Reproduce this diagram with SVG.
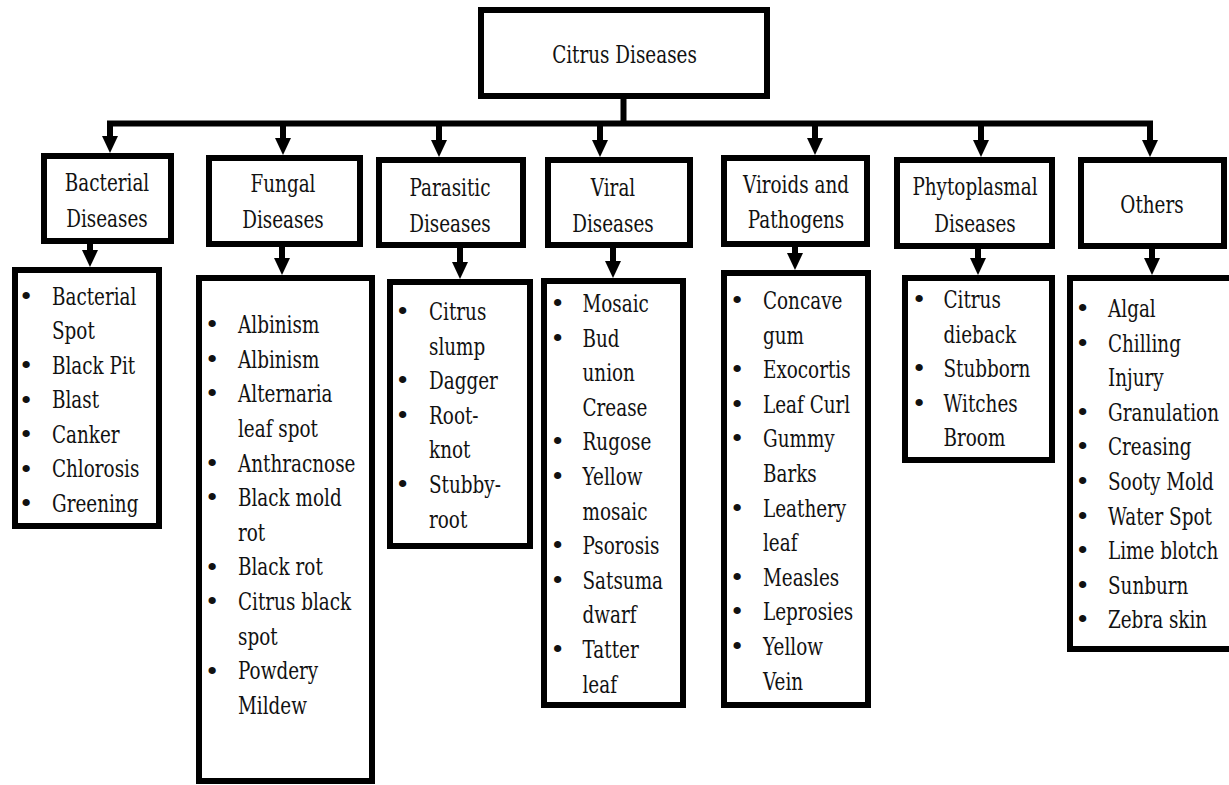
<svg xmlns="http://www.w3.org/2000/svg" width="1229" height="785" viewBox="0 0 1229 785">
<style>
  .box { fill: #ffffff; stroke: #000000; stroke-width: 6; }
  .wire { fill: none; stroke: #000000; stroke-width: 6; }
  text { font-family: 'DejaVu Serif', 'Liberation Serif', serif; font-size: 25px; fill: #111111; }
  .c { text-anchor: middle; }
  .b { text-anchor: middle; }
</style>
<defs>
  <marker id="ah" markerUnits="userSpaceOnUse" viewBox="0 0 17 16" refX="0" refY="8" markerWidth="17" markerHeight="16" orient="auto">
    <path d="M0,0 L17,8 L0,16 Z" fill="#000000"/>
  </marker>
</defs>
<rect width="1229" height="785" fill="#ffffff"/>

<g id="connectors">
  <line class="wire" x1="623.5" y1="99" x2="623.5" y2="126"/>
  <line class="wire" x1="107" y1="123.5" x2="1153" y2="123.5"/>
  <line class="wire" x1="110" y1="121" x2="110" y2="136" marker-end="url(#ah)"/>
  <line class="wire" x1="283" y1="121" x2="283" y2="138" marker-end="url(#ah)"/>
  <line class="wire" x1="439" y1="121" x2="439" y2="140" marker-end="url(#ah)"/>
  <line class="wire" x1="600" y1="121" x2="600" y2="140" marker-end="url(#ah)"/>
  <line class="wire" x1="815" y1="121" x2="815" y2="138" marker-end="url(#ah)"/>
  <line class="wire" x1="981" y1="121" x2="981" y2="140" marker-end="url(#ah)"/>
  <line class="wire" x1="1150" y1="121" x2="1150" y2="140" marker-end="url(#ah)"/>
  <line class="wire" x1="90" y1="244" x2="90" y2="250" marker-end="url(#ah)"/>
  <line class="wire" x1="282" y1="247" x2="282" y2="258" marker-end="url(#ah)"/>
  <line class="wire" x1="460" y1="248" x2="460" y2="262" marker-end="url(#ah)"/>
  <line class="wire" x1="613" y1="248" x2="613" y2="261" marker-end="url(#ah)"/>
  <line class="wire" x1="795" y1="247" x2="795" y2="253" marker-end="url(#ah)"/>
  <line class="wire" x1="978" y1="249" x2="978" y2="258" marker-end="url(#ah)"/>
  <line class="wire" x1="1152" y1="249" x2="1152" y2="258" marker-end="url(#ah)"/>
</g>

<g id="root">
  <rect class="box" x="481" y="10" width="286" height="86"/>
  <text class="c" transform="translate(624.5 0) scale(0.735 1)" x="0" y="63">Citrus Diseases</text>
</g>

<g id="cat-bacterial">
  <rect class="box" x="44" y="156" width="127" height="85"/>
  <text class="c" transform="translate(107 0) scale(0.735 1)" x="0" y="191">Bacterial</text>
  <text class="c" transform="translate(107 0) scale(0.735 1)" x="0" y="227">Diseases</text>
</g>
<g id="cat-fungal">
  <rect class="box" x="209" y="158" width="151" height="86"/>
  <text class="c" transform="translate(283 0) scale(0.735 1)" x="0" y="192">Fungal</text>
  <text class="c" transform="translate(283 0) scale(0.735 1)" x="0" y="228">Diseases</text>
</g>
<g id="cat-parasitic">
  <rect class="box" x="379" y="160" width="144" height="85"/>
  <text class="c" transform="translate(450 0) scale(0.735 1)" x="0" y="196">Parasitic</text>
  <text class="c" transform="translate(450 0) scale(0.735 1)" x="0" y="232">Diseases</text>
</g>
<g id="cat-viral">
  <rect class="box" x="548" y="160" width="142" height="85"/>
  <text class="c" transform="translate(613 0) scale(0.735 1)" x="0" y="196">Viral</text>
  <text class="c" transform="translate(613 0) scale(0.735 1)" x="0" y="232">Diseases</text>
</g>
<g id="cat-viroids">
  <rect class="box" x="724" y="158" width="143" height="86"/>
  <text class="c" transform="translate(796 0) scale(0.735 1)" x="0" y="193">Viroids and</text>
  <text class="c" transform="translate(796 0) scale(0.735 1)" x="0" y="228">Pathogens</text>
</g>
<g id="cat-phytoplasmal">
  <rect class="box" x="897" y="160" width="155" height="86"/>
  <text class="c" transform="translate(975 0) scale(0.735 1)" x="0" y="195">Phytoplasmal</text>
  <text class="c" transform="translate(975 0) scale(0.735 1)" x="0" y="232">Diseases</text>
</g>
<g id="cat-others">
  <rect class="box" x="1081" y="160" width="143" height="86"/>
  <text class="c" transform="translate(1152 0) scale(0.735 1)" x="0" y="213">Others</text>
</g>

<g id="list-bacterial">
  <rect class="box" x="15" y="270" width="144" height="256"/>
  <g class="bullets">
    <text class="b" x="26" y="305">•</text>
    <text class="b" x="26" y="374">•</text>
    <text class="b" x="26" y="408.5">•</text>
    <text class="b" x="26" y="443">•</text>
    <text class="b" x="26" y="477.5">•</text>
    <text class="b" x="26" y="512">•</text>
  </g>
  <g transform="translate(52 0) scale(0.735 1)">
    <text x="0" y="305">Bacterial</text>
    <text x="0" y="339.5">Spot</text>
    <text x="0" y="374">Black Pit</text>
    <text x="0" y="408.5">Blast</text>
    <text x="0" y="443">Canker</text>
    <text x="0" y="477.5">Chlorosis</text>
    <text x="0" y="512">Greening</text>
  </g>
</g>

<g id="list-fungal">
  <rect class="box" x="199" y="278" width="173" height="503"/>
  <g class="bullets">
    <text class="b" x="212" y="333">•</text>
    <text class="b" x="212" y="367.6">•</text>
    <text class="b" x="212" y="402.3">•</text>
    <text class="b" x="212" y="471.6">•</text>
    <text class="b" x="212" y="506.2">•</text>
    <text class="b" x="212" y="575.5">•</text>
    <text class="b" x="212" y="610.2">•</text>
    <text class="b" x="212" y="679.5">•</text>
  </g>
  <g transform="translate(238 0) scale(0.735 1)">
    <text x="0" y="333">Albinism</text>
    <text x="0" y="367.6">Albinism</text>
    <text x="0" y="402.3">Alternaria</text>
    <text x="0" y="436.9">leaf spot</text>
    <text x="0" y="471.6">Anthracnose</text>
    <text x="0" y="506.2">Black mold</text>
    <text x="0" y="540.9">rot</text>
    <text x="0" y="575.5">Black rot</text>
    <text x="0" y="610.2">Citrus black</text>
    <text x="0" y="644.8">spot</text>
    <text x="0" y="679.5">Powdery</text>
    <text x="0" y="714.1">Mildew</text>
  </g>
</g>

<g id="list-parasitic">
  <rect class="box" x="390" y="282" width="140" height="264"/>
  <g class="bullets">
    <text class="b" x="402.5" y="320">•</text>
    <text class="b" x="402.5" y="389.2">•</text>
    <text class="b" x="402.5" y="423.8">•</text>
    <text class="b" x="402.5" y="493">•</text>
  </g>
  <g transform="translate(429 0) scale(0.735 1)">
    <text x="0" y="320">Citrus</text>
    <text x="0" y="354.6">slump</text>
    <text x="0" y="389.2">Dagger</text>
    <text x="0" y="423.8">Root-</text>
    <text x="0" y="458.4">knot</text>
    <text x="0" y="493">Stubby-</text>
    <text x="0" y="527.6">root</text>
  </g>
</g>

<g id="list-viral">
  <rect class="box" x="544" y="281" width="139" height="424"/>
  <g class="bullets">
    <text class="b" x="557.5" y="312">•</text>
    <text class="b" x="557.5" y="346.6">•</text>
    <text class="b" x="557.5" y="450.4">•</text>
    <text class="b" x="557.5" y="485">•</text>
    <text class="b" x="557.5" y="554.2">•</text>
    <text class="b" x="557.5" y="588.8">•</text>
    <text class="b" x="557.5" y="658">•</text>
  </g>
  <g transform="translate(582.5 0) scale(0.735 1)">
    <text x="0" y="312">Mosaic</text>
    <text x="0" y="346.6">Bud</text>
    <text x="0" y="381.2">union</text>
    <text x="0" y="415.8">Crease</text>
    <text x="0" y="450.4">Rugose</text>
    <text x="0" y="485">Yellow</text>
    <text x="0" y="519.6">mosaic</text>
    <text x="0" y="554.2">Psorosis</text>
    <text x="0" y="588.8">Satsuma</text>
    <text x="0" y="623.4">dwarf</text>
    <text x="0" y="658">Tatter</text>
    <text x="0" y="692.6">leaf</text>
  </g>
</g>

<g id="list-viroids">
  <rect class="box" x="724" y="273" width="144" height="432"/>
  <g class="bullets">
    <text class="b" x="737" y="309">•</text>
    <text class="b" x="737" y="378.2">•</text>
    <text class="b" x="737" y="412.8">•</text>
    <text class="b" x="737" y="447.4">•</text>
    <text class="b" x="737" y="516.6">•</text>
    <text class="b" x="737" y="585.8">•</text>
    <text class="b" x="737" y="620.4">•</text>
    <text class="b" x="737" y="655">•</text>
  </g>
  <g transform="translate(763 0) scale(0.735 1)">
    <text x="0" y="309">Concave</text>
    <text x="0" y="343.6">gum</text>
    <text x="0" y="378.2">Exocortis</text>
    <text x="0" y="412.8">Leaf Curl</text>
    <text x="0" y="447.4">Gummy</text>
    <text x="0" y="482">Barks</text>
    <text x="0" y="516.6">Leathery</text>
    <text x="0" y="551.2">leaf</text>
    <text x="0" y="585.8">Measles</text>
    <text x="0" y="620.4">Leprosies</text>
    <text x="0" y="655">Yellow</text>
    <text x="0" y="689.6">Vein</text>
  </g>
</g>

<g id="list-phytoplasmal">
  <rect class="box" x="905" y="278" width="147" height="182"/>
  <g class="bullets">
    <text class="b" x="919" y="308">•</text>
    <text class="b" x="919" y="377.2">•</text>
    <text class="b" x="919" y="411.8">•</text>
  </g>
  <g transform="translate(943.5 0) scale(0.735 1)">
    <text x="0" y="308">Citrus</text>
    <text x="0" y="342.6">dieback</text>
    <text x="0" y="377.2">Stubborn</text>
    <text x="0" y="411.8">Witches</text>
    <text x="0" y="446.4">Broom</text>
  </g>
</g>

<g id="list-others">
  <rect class="box" x="1070" y="278" width="165" height="371"/>
  <g class="bullets">
    <text class="b" x="1082.5" y="317">•</text>
    <text class="b" x="1082.5" y="351.6">•</text>
    <text class="b" x="1082.5" y="420.8">•</text>
    <text class="b" x="1082.5" y="455.4">•</text>
    <text class="b" x="1082.5" y="490">•</text>
    <text class="b" x="1082.5" y="524.6">•</text>
    <text class="b" x="1082.5" y="559.2">•</text>
    <text class="b" x="1082.5" y="593.8">•</text>
    <text class="b" x="1082.5" y="628.4">•</text>
  </g>
  <g transform="translate(1108 0) scale(0.735 1)">
    <text x="0" y="317">Algal</text>
    <text x="0" y="351.6">Chilling</text>
    <text x="0" y="386.2">Injury</text>
    <text x="0" y="420.8">Granulation</text>
    <text x="0" y="455.4">Creasing</text>
    <text x="0" y="490">Sooty Mold</text>
    <text x="0" y="524.6">Water Spot</text>
    <text x="0" y="559.2">Lime blotch</text>
    <text x="0" y="593.8">Sunburn</text>
    <text x="0" y="628.4">Zebra skin</text>
  </g>
</g>
</svg>
